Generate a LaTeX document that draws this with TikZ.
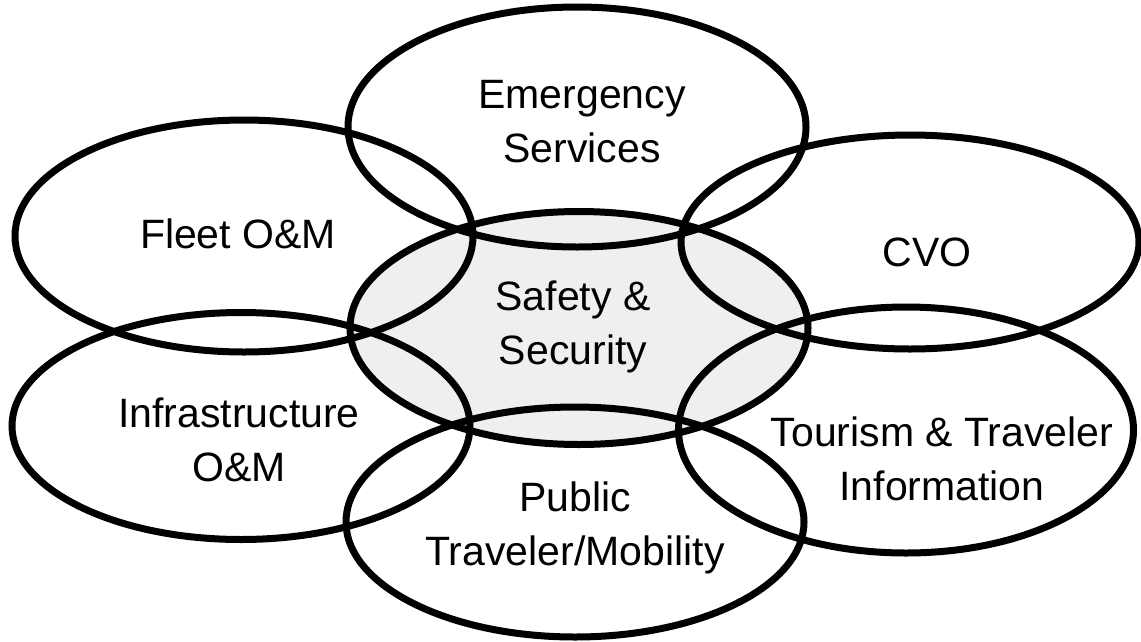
\documentclass[tikz,border=0pt]{standalone}
\usepackage{fontspec}
\setmainfont{Liberation Sans}
\definecolor{corefill}{HTML}{EFEFEF}
\usetikzlibrary{shapes.geometric}

\begin{document}
\begin{tikzpicture}[
  x=1pt, y=-1pt,
  area/.style={ellipse, draw=black, line width=7pt, inner sep=0pt,
    minimum width=458, minimum height=#1},
  core/.style={area=233, fill=corefill},
  lbl/.style={align=center, inner sep=0pt,
    font=\fontsize{41}{54}\selectfont}
]
  \useasboundingbox (0,0) rectangle (1141,641);

  % Shaded centre area first, the others draw over it
  \node[core] (safety) at (579,328) {};

  % Surrounding areas
  \node[area=240] (emerg) at (577,127) {};
  \node[area=232] (fleet) at (244,236) {};
  \node[area=214] (cvo) at (910,242) {};
  \node[area=227] (infra) at (241,426) {};
  \node[area=246, minimum width=455] (tour) at (906,430) {};
  \node[area=230] (public) at (575,522) {};

  % Labels
  \node[lbl] (safety-t) at (573,327) {Safety \&\\Security};
  \node[lbl] (emerg-t) at (582,122) {Emergency\\Services};
  \node[lbl] (fleet-t) at (238,234) {Fleet O\&M};
  \node[lbl] (cvo-t) at (927,252) {CVO};
  \node[lbl] (infra-t) at (239,440) {Infrastructure\\O\&M};
  \node[lbl] (tour-t) at (942,459) {Tourism \& Traveler\\Information};
  \node[lbl] (public-t) at (575,528) {Public\\Traveler/Mobility};
\end{tikzpicture}
\end{document}
